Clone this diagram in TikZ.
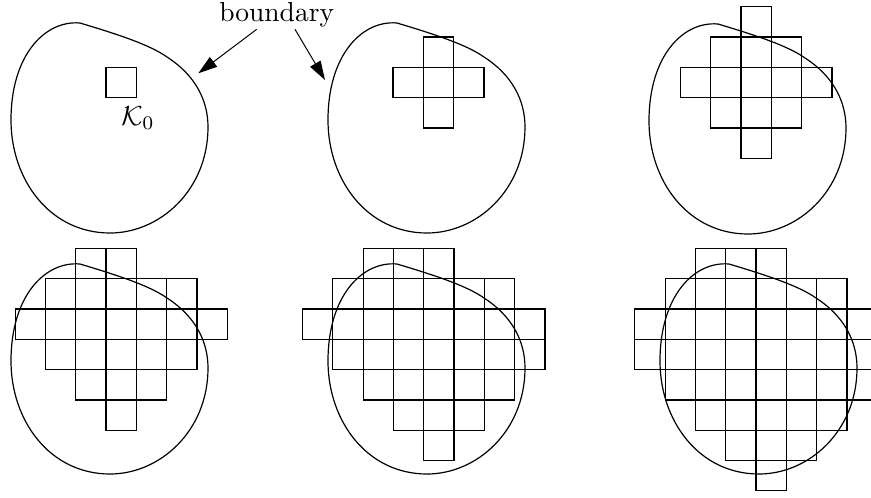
\documentclass[tikz,border=0pt]{standalone}
\usetikzlibrary{arrows.meta}
\tikzset{
  blobline/.style={line width=1.2pt, black},
  cellline/.style={line width=1.2pt, black},
  pointer/.style={line width=1pt, -{Triangle[length=19pt,width=12pt]}},
  lbl/.style={inner sep=0pt, scale=2.75},
  blob/.pic={\draw[blobline] (80,23) .. controls (120,35) and (150,45) .. (167,57)
     .. controls (195,75) and (208,100) .. (208,127)
     .. controls (208,190) and (160,233) .. (110,233)
     .. controls (50,233) and (11,180) .. (11,120)
     .. controls (11,55) and (45,20) .. cycle;}
}
\newcommand\cellrow[5]{\foreach \c in {#4,...,#5}{\draw[cellline] ({#1+\c*30.3},{#2+#3*30.3}) rectangle ++(30.3,30.3);}}
\begin{document}
\begin{tikzpicture}[x=1pt,y=-1pt]
\clip (0,0) rectangle (871,498);
\useasboundingbox (0,0) rectangle (871,498);
% panel 1
\pic at (0,0) {blob};
\cellrow{106}{67.3}{0}{0}{0}
\node[lbl] (k0) at (138,118) {$\mathcal{K}_0$};
% panel 2
\pic at (317,0) {blob};
\cellrow{423.3}{67.3}{-1}{0}{0}
\cellrow{423.3}{67.3}{0}{-1}{1}
\cellrow{423.3}{67.3}{1}{0}{0}
% panel 3
\pic at (638,1) {blob};
\cellrow{741}{67.3}{-2}{0}{0}
\cellrow{741}{67.3}{-1}{-1}{1}
\cellrow{741}{67.3}{0}{-2}{2}
\cellrow{741}{67.3}{1}{-1}{1}
\cellrow{741}{67.3}{2}{0}{0}
% panel 4
\pic at (0,241) {blob};
\cellrow{106}{309}{-2}{-1}{0}
\cellrow{106}{309}{-1}{-2}{2}
\cellrow{106}{309}{0}{-3}{3}
\cellrow{106}{309}{1}{-2}{2}
\cellrow{106}{309}{2}{-1}{1}
\cellrow{106}{309}{3}{0}{0}
% panel 5
\pic at (317,241) {blob};
\cellrow{423.7}{309}{-2}{-2}{0}
\cellrow{423.7}{309}{-1}{-3}{2}
\cellrow{423.7}{309}{0}{-4}{3}
\cellrow{423.7}{309}{1}{-3}{3}
\cellrow{423.7}{309}{2}{-2}{2}
\cellrow{423.7}{309}{3}{-1}{1}
\cellrow{423.7}{309}{4}{0}{0}
% panel 6
\pic at (649,241) {blob};
\cellrow{756}{309}{-2}{-2}{0}
\cellrow{756}{309}{-1}{-3}{2}
\cellrow{756}{309}{0}{-4}{3}
\cellrow{756}{309}{1}{-4}{3}
\cellrow{756}{309}{2}{-3}{3}
\cellrow{756}{309}{3}{-2}{2}
\cellrow{756}{309}{4}{-1}{1}
\cellrow{756}{309}{5}{0}{0}
% label and arrows
\node[lbl, anchor=base] (bnd) at (276.7,21.7) {boundary};
\coordinate (s1) at (256.7,29.3);
\coordinate (t1) at (198.3,73.3);
\coordinate (s2) at (295,29.3);
\coordinate (t2) at (325,80);
\draw[pointer] (s1) -- (t1);
\draw[pointer] (s2) -- (t2);
\end{tikzpicture}
\end{document}
